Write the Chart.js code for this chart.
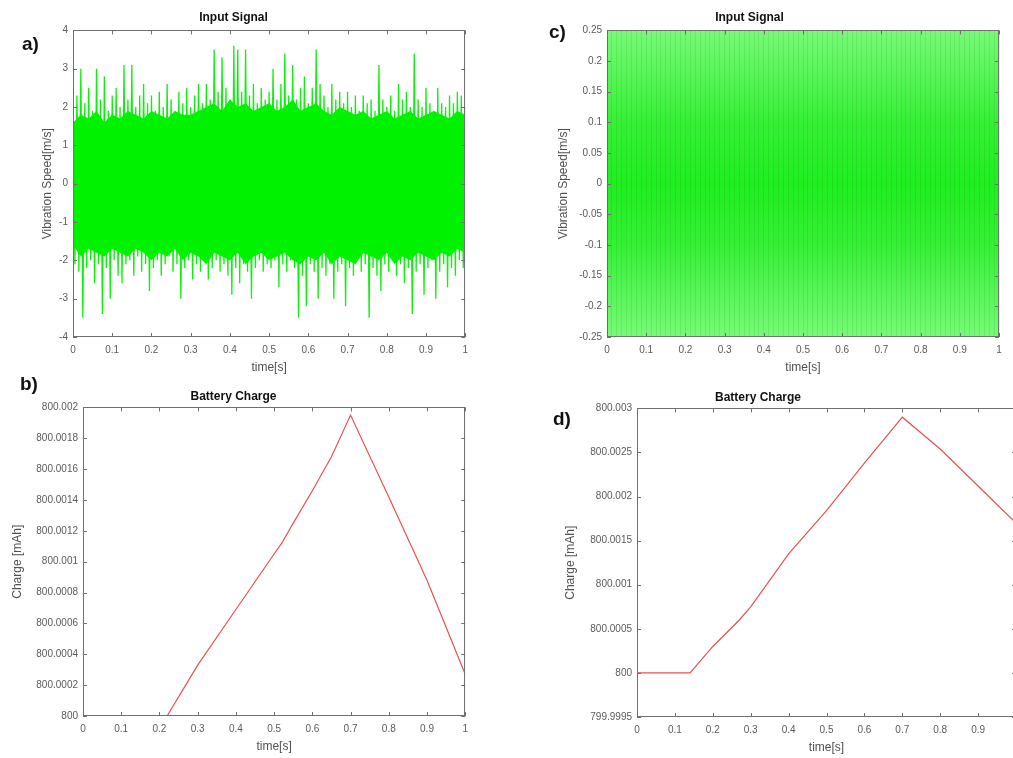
<!DOCTYPE html>
<html>
<head>
<meta charset="utf-8">
<script src="https://cdn.jsdelivr.net/npm/chart.js@4.4.1/dist/chart.umd.min.js"></script>
<style>
  html, body { margin: 0; padding: 0; background: #fff; width: 1013px; height: 758px; overflow: hidden; }
  .panel { position: absolute; }
  .tag { position: absolute; font: bold 19px 'Liberation Sans', Arial, sans-serif; line-height: 19px; color: #111; }
</style>
</head>
<body>
<div class="panel" style="left:0;top:0;width:475px;height:375px"><canvas id="chartA"></canvas></div>
<div class="panel" style="left:500px;top:0;width:513px;height:375px"><canvas id="chartC"></canvas></div>
<div class="panel" style="left:0;top:384px;width:475px;height:370px"><canvas id="chartB"></canvas></div>
<div class="panel" style="left:500px;top:385px;width:526px;height:370px"><canvas id="chartD"></canvas></div>
<div class="tag" style="left:22px;top:34px">a)</div>
<div class="tag" style="left:549px;top:22px">c)</div>
<div class="tag" style="left:20px;top:374px">b)</div>
<div class="tag" style="left:553px;top:409px">d)</div>
<script>
// --- data ---
// a) input signal: upper / lower peaks, one pair per 0.01 s
const sigStep = 0.01;
const sigUpperA = [1.6, 2.3, 3.0, 2.1, 2.5, 1.9, 3.0, 2.2, 2.8, 1.9, 2.3, 2.5, 2.0, 3.1, 2.2, 3.1, 2.0, 2.3, 2.6, 2.1,
  2.3, 1.9, 2.4, 2.0, 2.6, 2.2, 1.9, 2.4, 2.1, 2.5, 2.0, 2.3, 2.6, 2.1, 2.6, 2.2, 3.5, 2.4, 3.3, 2.5,
  2.2, 3.6, 3.5, 2.4, 3.5, 2.3, 2.6, 2.1, 2.5, 2.2, 2.4, 3.0, 2.2, 2.6, 3.4, 2.3, 3.1, 2.2, 2.5, 2.8,
  2.1, 2.5, 3.5, 2.6, 2.3, 2.0, 2.6, 2.2, 2.4, 2.1, 2.4, 2.0, 2.3, 1.9, 2.3, 2.1, 2.2, 1.9, 3.1, 2.2,
  2.0, 2.3, 1.9, 2.6, 2.2, 2.4, 2.0, 3.4, 2.2, 2.0, 2.5, 2.1, 1.9, 2.5, 2.1, 2.0, 2.3, 2.1, 2.4, 2.3, 2.0];
const sigLowerA = [-2.1, -2.3, -3.5, -2.2, -2.0, -2.6, -2.1, -3.4, -2.2, -3.0, -2.0, -2.4, -2.6, -2.1, -2.0, -2.4, -1.9, -2.3, -2.1, -2.8,
  -2.2, -2.0, -2.4, -2.1, -1.9, -2.3, -2.1, -3.0, -2.2, -2.0, -2.5, -2.1, -2.3, -2.0, -2.5, -2.2, -2.0, -2.3, -2.1, -2.4,
  -2.9, -2.2, -2.6, -2.1, -2.3, -3.0, -2.2, -2.0, -2.3, -2.1, -2.2, -2.0, -2.7, -2.1, -2.3, -2.0, -2.2, -3.5, -2.4, -3.2,
  -2.1, -2.3, -3.0, -2.2, -2.4, -2.1, -3.0, -2.3, -2.1, -3.2, -2.2, -2.4, -2.0, -2.3, -2.1, -3.5, -2.2, -2.4, -2.8, -2.1,
  -2.3, -2.0, -2.4, -2.1, -2.6, -2.2, -3.4, -2.3, -2.1, -2.9, -2.2, -2.0, -3.0, -2.3, -2.1, -2.7, -2.2, -2.4, -2.0, -2.2, -2.1];
// a) edge of the solid green core, one value per 0.02 s
const coreStep = 0.02;
const coreUpperA = [1.6, 1.8, 1.7, 1.9, 1.6, 1.8, 1.7, 1.9, 1.8, 1.7,
  1.9, 1.8, 1.7, 1.9, 1.8, 1.8, 1.9, 2.0, 2.1, 1.9,
  2.2, 2.0, 2.1, 1.9, 2.0, 2.1, 1.9, 2.0, 2.2, 1.9,
  2.0, 2.1, 1.9, 1.8, 2.0, 1.9, 1.8, 1.9, 1.7, 1.8,
  1.9, 1.7, 1.8, 1.9, 1.7, 1.8, 1.9, 1.8, 1.7, 1.9, 1.8];
const coreLowerA = [-1.6, -1.9, -1.7, -1.8, -1.9, -1.7, -1.8, -1.9, -1.7, -1.8,
  -2.0, -1.8, -1.9, -1.7, -2.0, -1.8, -1.9, -2.1, -1.8, -1.9,
  -2.0, -1.8, -2.1, -1.9, -1.8, -2.0, -1.9, -1.8, -2.0, -2.1,
  -1.9, -2.0, -1.8, -2.1, -1.9, -2.0, -2.1, -1.8, -1.9, -2.0,
  -1.8, -2.1, -1.9, -2.0, -1.8, -1.9, -2.0, -1.8, -1.9, -1.7, -1.8];

// c) input signal fills the whole band
const timeC = [0, 1];
const sigUpperC = [0.25, 0.25];
const sigLowerC = [-0.25, -0.25];
const zeroLine = [0, 0];

// b) battery charge
const timeB = [0, 0.22, 0.3, 0.4, 0.5, 0.52, 0.55, 0.6, 0.65, 0.7, 0.8, 0.9, 1.0];
const chargeB = [800, 800, 800.00033, 800.00069, 800.00105, 800.00112, 800.00125, 800.00146, 800.00168, 800.00195, 800.00142, 800.00088, 800.00027];

// d) battery charge
const timeD = [0, 0.14, 0.2, 0.27, 0.3, 0.4, 0.5, 0.6, 0.7, 0.8, 0.9, 1.0];
const chargeD = [800, 800, 800.0003, 800.0006, 800.00075, 800.00135, 800.00184, 800.00238, 800.0029, 800.00254, 800.00212, 800.0017];

// tick labels
const timeTicks = [0, 0.1, 0.2, 0.3, 0.4, 0.5, 0.6, 0.7, 0.8, 0.9, 1];
const timeLabels = ['0', '0.1', '0.2', '0.3', '0.4', '0.5', '0.6', '0.7', '0.8', '0.9', '1'];
const ticksA = [-4, -3, -2, -1, 0, 1, 2, 3, 4];
const labelsA = ['-4', '-3', '-2', '-1', '0', '1', '2', '3', '4'];
const ticksC = [-0.25, -0.2, -0.15, -0.1, -0.05, 0, 0.05, 0.1, 0.15, 0.2, 0.25];
const labelsC = ['-0.25', '-0.2', '-0.15', '-0.1', '-0.05', '0', '0.05', '0.1', '0.15', '0.2', '0.25'];
const ticksB = [800, 800.0002, 800.0004, 800.0006, 800.0008, 800.001, 800.0012, 800.0014, 800.0016, 800.0018, 800.002];
const labelsB = ['800', '800.0002', '800.0004', '800.0006', '800.0008', '800.001', '800.0012', '800.0014', '800.0016', '800.0018', '800.002'];
const ticksD = [799.9995, 800, 800.0005, 800.001, 800.0015, 800.002, 800.0025, 800.003];
const labelsD = ['799.9995', '800', '800.0005', '800.001', '800.0015', '800.002', '800.0025', '800.003'];

const FONT = "'Liberation Sans', Arial, sans-serif";

// matlab-like box with inward ticks
const matFrame = {
  id: 'matFrame',
  afterDatasetsDraw(chart) {
    const { ctx, chartArea: a, scales } = chart;
    ctx.save();
    ctx.strokeStyle = '#707070';
    ctx.lineWidth = 1;
    ctx.strokeRect(Math.round(a.left) + 0.5, Math.round(a.top) + 0.5, Math.round(a.width) - 1, Math.round(a.height) - 1);
    ctx.beginPath();
    scales.x.ticks.forEach(t => {
      const px = Math.round(scales.x.getPixelForValue(t.value)) + 0.5;
      ctx.moveTo(px, a.bottom); ctx.lineTo(px, a.bottom - 4);
      ctx.moveTo(px, a.top); ctx.lineTo(px, a.top + 4);
    });
    scales.y.ticks.forEach(t => {
      const py = Math.round(scales.y.getPixelForValue(t.value)) + 0.5;
      ctx.moveTo(a.left, py); ctx.lineTo(a.left + 4, py);
      ctx.moveTo(a.right, py); ctx.lineTo(a.right - 4, py);
    });
    ctx.stroke();
    ctx.restore();
  }
};

function fixedTicks(values) {
  return scale => { scale.ticks = values.map(v => ({ value: v })); };
}

function baseOptions(cfg) {
  return {
    responsive: true,
    maintainAspectRatio: false,
    animation: false,
    events: [],
    layout: { padding: { right: cfg.padRight, left: 0, top: 0, bottom: 0 } },
    plugins: {
      legend: { display: false },
      tooltip: { enabled: false },
      title: {
        display: true,
        text: cfg.title,
        color: '#111',
        font: { family: FONT, size: 12, weight: 'bold' },
        padding: { top: cfg.titleTop, bottom: cfg.titleBottom }
      }
    },
    scales: Object.assign({
      x: {
        type: 'linear',
        min: 0,
        max: 1,
        afterBuildTicks: fixedTicks(timeTicks),
        afterFit: s => { s.height = 38; },
        grid: { display: false, drawTicks: false },
        border: { display: false },
        ticks: {
          color: '#5a5a5a', padding: 7, font: { family: FONT, size: 10 },
          autoSkip: false, maxRotation: 0,
          callback: (v, i) => timeLabels[i]
        },
        title: { display: true, text: 'time[s]', color: '#505050', font: { family: FONT, size: 12 }, padding: { top: 0, bottom: 0 } }
      },
      y: {
        type: 'linear',
        min: cfg.yMin,
        max: cfg.yMax,
        afterBuildTicks: fixedTicks(cfg.yTicks),
        afterFit: s => { s.width = cfg.yWidth; },
        grid: { display: false, drawTicks: false },
        border: { display: false },
        ticks: {
          color: '#5a5a5a', padding: 5, font: { family: FONT, size: 10 },
          autoSkip: false,
          callback: (v, i) => cfg.yLabels[i]
        },
        title: { display: true, text: cfg.yTitle, color: '#505050', font: { family: FONT, size: 12 }, padding: { top: cfg.yTitlePad, bottom: 0 } }
      }
    }, cfg.extraScales || {})
  };
}

// faint vertical streaks over the harmonic band
function stripeAxis(color) {
  return {
    xs: {
      type: 'linear', position: 'top', min: 0, max: 1,
      afterFit: s => { s.height = 0; },
      border: { display: false },
      grid: { color: color, drawTicks: false, lineWidth: 1, z: 1 },
      ticks: { display: false, stepSize: 0.0125, maxTicksLimit: 200 }
    }
  };
}

// a) Input Signal (random vibration): trace runs peak to peak
const traceA = [];
sigUpperA.forEach((v, i) => {
  traceA.push({ x: i * sigStep, y: v });
  traceA.push({ x: i * sigStep + sigStep / 2, y: sigLowerA[i] });
});

new Chart(document.getElementById('chartA'), {
  type: 'line',
  data: {
    datasets: [
      {
        data: coreUpperA.map((v, i) => ({ x: i * coreStep, y: v })),
        borderWidth: 0, pointRadius: 0, fill: '+1', backgroundColor: '#00f200'
      },
      {
        data: coreLowerA.map((v, i) => ({ x: i * coreStep, y: v })),
        borderWidth: 0, pointRadius: 0, fill: false
      },
      {
        data: traceA,
        borderColor: '#0cf00c', borderWidth: 1.3, fill: false, pointRadius: 0, tension: 0
      },
      {
        data: timeC.map((t, i) => ({ x: t, y: zeroLine[i] })),
        borderColor: 'rgba(130,100,0,0.4)', borderWidth: 1.5, fill: false, pointRadius: 0
      }
    ]
  },
  options: baseOptions({
    title: 'Input Signal', titleTop: 10, titleBottom: 6, padRight: 8,
    yMin: -4, yMax: 4, yTicks: ticksA, yLabels: labelsA, yWidth: 73,
    yTitle: 'Vibration Speed[m/s]', yTitlePad: 40
  }),
  plugins: [matFrame]
});

// c) Input Signal (harmonic)
new Chart(document.getElementById('chartC'), {
  type: 'line',
  data: {
    datasets: [
      {
        data: timeC.map((t, i) => ({ x: t, y: sigUpperC[i] })),
        borderWidth: 0, pointRadius: 0, fill: '+1',
        backgroundColor: ctx => {
          const a = ctx.chart.chartArea;
          if (!a) return '#2ef02e';
          const g = ctx.chart.ctx.createLinearGradient(0, a.top, 0, a.bottom);
          g.addColorStop(0, '#78fa78');
          g.addColorStop(0.3, '#36f036');
          g.addColorStop(0.5, '#20ee20');
          g.addColorStop(0.7, '#36f036');
          g.addColorStop(1, '#78fa78');
          return g;
        }
      },
      {
        data: timeC.map((t, i) => ({ x: t, y: sigLowerC[i] })),
        borderWidth: 0, pointRadius: 0, fill: false
      },
      {
        data: timeC.map((t, i) => ({ x: t, y: zeroLine[i] })),
        borderColor: 'rgba(120,100,20,0.45)', borderWidth: 1.5, fill: false, pointRadius: 0
      }
    ]
  },
  options: baseOptions({
    title: 'Input Signal', titleTop: 10, titleBottom: 6, padRight: 14,
    yMin: -0.25, yMax: 0.25, yTicks: ticksC, yLabels: labelsC, yWidth: 107,
    yTitle: 'Vibration Speed[m/s]', yTitlePad: 56,
    extraScales: stripeAxis('rgba(0,110,0,0.11)')
  }),
  plugins: [matFrame]
});

// b) Battery Charge
new Chart(document.getElementById('chartB'), {
  type: 'line',
  data: {
    datasets: [{
      data: timeB.map((t, i) => ({ x: t, y: chargeB[i] })),
      borderColor: 'rgb(236,80,80)', borderWidth: 1.2, pointRadius: 0, fill: false, tension: 0
    }]
  },
  options: baseOptions({
    title: 'Battery Charge', titleTop: 5, titleBottom: 4, padRight: 8,
    yMin: 800, yMax: 800.002, yTicks: ticksB, yLabels: labelsB, yWidth: 83,
    yTitle: 'Charge [mAh]', yTitlePad: 10
  }),
  plugins: [matFrame]
});

// d) Battery Charge
new Chart(document.getElementById('chartD'), {
  type: 'line',
  data: {
    datasets: [{
      data: timeD.map((t, i) => ({ x: t, y: chargeD[i] })),
      borderColor: 'rgb(236,80,80)', borderWidth: 1.2, pointRadius: 0, fill: false, tension: 0
    }]
  },
  options: baseOptions({
    title: 'Battery Charge', titleTop: 5, titleBottom: 4, padRight: 10,
    yMin: 799.9995, yMax: 800.003, yTicks: ticksD, yLabels: labelsD, yWidth: 137,
    yTitle: 'Charge [mAh]', yTitlePad: 63
  }),
  plugins: [matFrame]
});
</script>
</body>
</html>
